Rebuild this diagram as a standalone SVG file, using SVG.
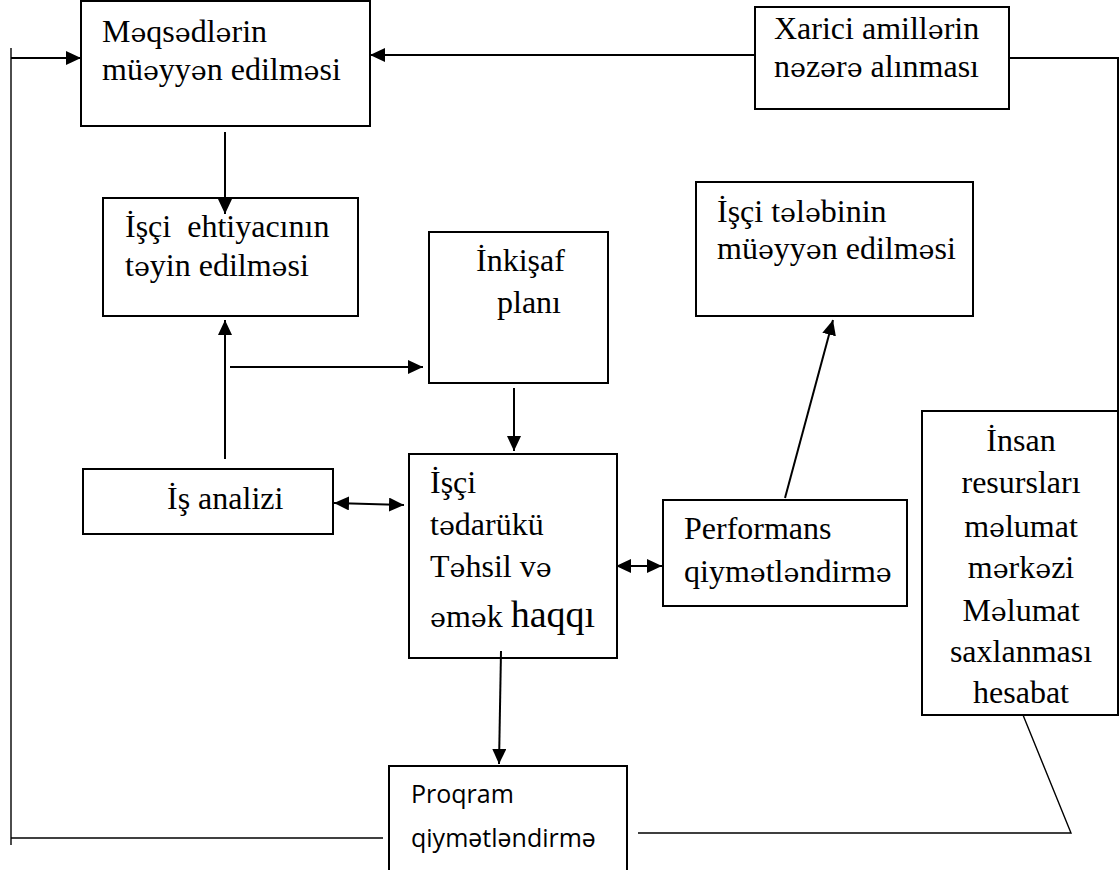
<svg xmlns="http://www.w3.org/2000/svg" width="1120" height="870" viewBox="0 0 1120 870">
  <style>
    .box { fill: #ffffff; stroke: #000000; stroke-width: 2; }
    .t { font-family: "Liberation Serif", "Times New Roman", serif; font-size: 32px; fill: #000000; }
    .e { font-family: "DejaVu Serif", serif; font-size: 0.84em; }
    .ts { font-family: "Open Sans", "Liberation Sans", sans-serif; font-size: 25px; fill: #000000; }
    .c { fill: none; stroke: #000000; stroke-width: 2; }
    .thin { fill: none; stroke: #000000; stroke-width: 1.4; }
  </style>
  <defs>
    <marker id="arrow" markerUnits="userSpaceOnUse" markerWidth="16" markerHeight="14" refX="15" refY="7" orient="auto-start-reverse">
      <path d="M0,0 L15,7 L0,14 z" fill="#000000"/>
    </marker>
  </defs>

  <rect width="1120" height="870" fill="#ffffff"/>

  <g id="node-goals">
    <rect class="box" x="81" y="1" width="289" height="125"/>
    <text class="t" x="102" y="42">M<tspan class="e">ə</tspan>qs<tspan class="e">ə</tspan>dl<tspan class="e">ə</tspan>rin</text>
    <text class="t" x="102" y="80">mü<tspan class="e">ə</tspan>yy<tspan class="e">ə</tspan>n edilm<tspan class="e">ə</tspan>si</text>
  </g>

  <g id="node-external">
    <rect class="box" x="755" y="7" width="254" height="102"/>
    <text class="t" x="774" y="39">Xarici amill<tspan class="e">ə</tspan>rin</text>
    <text class="t" x="774" y="77">n<tspan class="e">ə</tspan>z<tspan class="e">ə</tspan>r<tspan class="e">ə</tspan> alınması</text>
  </g>

  <g id="node-needs">
    <rect class="box" x="103" y="198" width="255" height="118"/>
    <text class="t" x="125" y="237" style="white-space:pre">İşçi  ehtiyacının</text>
    <text class="t" x="125" y="276">t<tspan class="e">ə</tspan>yin edilm<tspan class="e">ə</tspan>si</text>
  </g>

  <g id="node-development">
    <rect class="box" x="429" y="232" width="179" height="151"/>
    <text class="t" x="476" y="271">İnkişaf</text>
    <text class="t" x="497" y="313">planı</text>
  </g>

  <g id="node-demand">
    <rect class="box" x="696" y="182" width="277" height="134"/>
    <text class="t" x="717" y="222">İşçi t<tspan class="e">ə</tspan>l<tspan class="e">ə</tspan>binin</text>
    <text class="t" x="717" y="259">mü<tspan class="e">ə</tspan>yy<tspan class="e">ə</tspan>n edilm<tspan class="e">ə</tspan>si</text>
  </g>

  <g id="node-job-analysis">
    <rect class="box" x="83" y="469" width="250" height="65"/>
    <text class="t" x="167" y="509">İş analizi</text>
  </g>

  <g id="node-procurement">
    <rect class="box" x="409" y="454" width="208" height="204"/>
    <text class="t" x="430" y="493">İşçi</text>
    <text class="t" x="430" y="535">t<tspan class="e">ə</tspan>darükü</text>
    <text class="t" x="430" y="577">T<tspan class="e">ə</tspan>hsil v<tspan class="e">ə</tspan></text>
    <text class="t" x="430" y="627"><tspan class="e">ə</tspan>m<tspan class="e">ə</tspan>k <tspan font-size="38">haqqı</tspan></text>
  </g>

  <g id="node-performance">
    <rect class="box" x="663" y="500" width="244" height="106"/>
    <text class="t" x="684" y="539">Performans</text>
    <text class="t" x="684" y="582">qiym<tspan class="e">ə</tspan>tl<tspan class="e">ə</tspan>ndirm<tspan class="e">ə</tspan></text>
  </g>

  <g id="node-hr-data">
    <rect class="box" x="922" y="411" width="196" height="304"/>
    <g text-anchor="middle">
      <text class="t" x="1021" y="451">İnsan</text>
      <text class="t" x="1021" y="493">resursları</text>
      <text class="t" x="1021" y="537">m<tspan class="e">ə</tspan>lumat</text>
      <text class="t" x="1021" y="578">m<tspan class="e">ə</tspan>rk<tspan class="e">ə</tspan>zi</text>
      <text class="t" x="1021" y="621">M<tspan class="e">ə</tspan>lumat</text>
      <text class="t" x="1021" y="662">saxlanması</text>
      <text class="t" x="1021" y="703">hesabat</text>
    </g>
  </g>

  <g id="node-programme">
    <rect class="box" x="389" y="766" width="238" height="120"/>
    <text class="ts" x="411" y="803">Proqram</text>
    <text class="ts" x="411" y="847">qiymətləndirmə</text>
  </g>

  <!-- connectors, drawn over the boxes so heads that reach inside stay visible -->
  <g id="connectors">
    <!-- feedback loop along the left edge -->
    <path class="thin" d="M11,48 V845"/>
    <path class="c" d="M11,58 H81" marker-end="url(#arrow)"/>
    <path class="thin" d="M11,838 H383"/>
    <!-- external factors into goals -->
    <path class="c" d="M755,55 H370" marker-end="url(#arrow)"/>
    <!-- external factors down the right edge to the HR data centre -->
    <path class="c" d="M1009,58 H1118 V411"/>
    <!-- goals to employee needs -->
    <path class="c" d="M225,132 V214" marker-end="url(#arrow)"/>
    <!-- job analysis up to employee needs -->
    <path class="c" d="M225,459 V320" marker-end="url(#arrow)"/>
    <!-- branch to development plan -->
    <path class="c" d="M230,367 H423" marker-end="url(#arrow)"/>
    <!-- development plan to procurement -->
    <path class="c" d="M514,388 V451" marker-end="url(#arrow)"/>
    <!-- job analysis and procurement -->
    <path class="c" d="M334,503 L404,505" marker-start="url(#arrow)" marker-end="url(#arrow)"/>
    <!-- procurement and performance -->
    <path class="c" d="M616,566 H662" marker-start="url(#arrow)" marker-end="url(#arrow)"/>
    <!-- performance to demand -->
    <path class="c" d="M785,498 L833,320" marker-end="url(#arrow)"/>
    <!-- procurement to programme evaluation -->
    <path class="c" d="M501,651 L499,764" marker-end="url(#arrow)"/>
    <!-- programme evaluation to the HR data centre -->
    <path class="thin" d="M638,833 H1071 L1023,715"/>
  </g>
</svg>
